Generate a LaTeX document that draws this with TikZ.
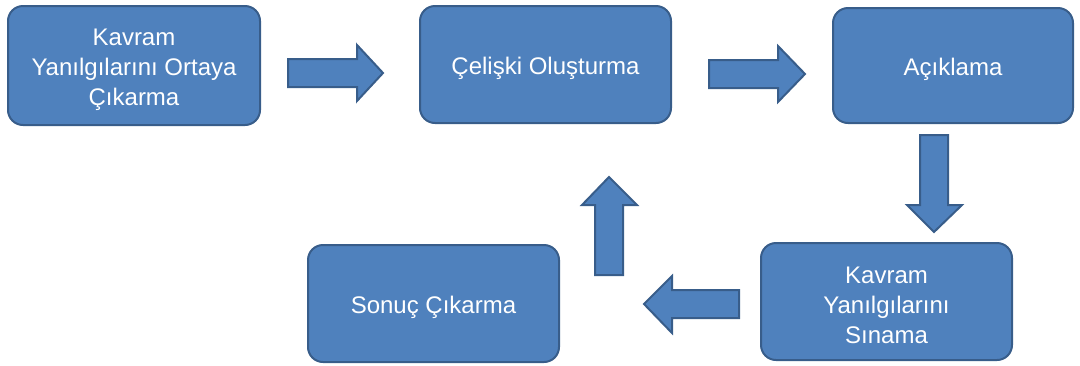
\documentclass[tikz,border=0pt]{standalone}
\usepackage{fontspec}
\setmainfont{Liberation Sans}
\definecolor{boxfill}{HTML}{4F81BD}
\definecolor{boxline}{HTML}{385D8A}
\begin{document}
\begin{tikzpicture}[x=1pt,y=-1pt,
  box/.style={draw=boxline, fill=boxfill, line width=2pt, rounded corners=15pt,
    inner sep=0pt},
  lbl/.style={text=white, align=center, inner sep=0pt,
    font=\fontsize{24}{30}\selectfont},
  barrow/.style={draw=boxline, fill=boxfill, line width=2pt, line join=miter}]
\useasboundingbox (0,0) rectangle (1080,365);
\node[box, minimum width=252pt, minimum height=119pt] (b1) at (134,65.5) {};
\node[box, minimum width=251pt, minimum height=117pt] (b2) at (545.5,64.5) {};
\node[box, minimum width=240pt, minimum height=115pt] (b3) at (953,65.5) {};
\node[box, minimum width=251pt, minimum height=117pt] (b4) at (886.5,301.5) {};
\node[box, minimum width=251pt, minimum height=117pt] (b5) at (433.5,303.5) {};
\node[lbl] (t1) at ([yshift=-4pt]b1.center) {Kavram\\Yanılgılarını Ortaya\\Çıkarma};
\node[lbl] (t2) at ([yshift=-4pt]b2.center) {Çelişki Oluşturma};
\node[lbl] (t3) at ([yshift=-4pt]b3.center) {Açıklama};
\node[lbl] (t4) at ([yshift=-4pt]b4.center) {Kavram\\Yanılgılarını\\Sınama};
\node[lbl] (t5) at ([yshift=-4pt]b5.center) {Sonuç Çıkarma};
% block arrows
\draw[barrow] (288,59) -- (357,59) -- (357,45) -- (383,73) -- (357,101) -- (357,87) -- (288,87) -- cycle;
\draw[barrow] (709,60) -- (778,60) -- (778,46) -- (805,74) -- (778,102) -- (778,88) -- (709,88) -- cycle;
\draw[barrow] (920,135) -- (948,135) -- (948,205) -- (962,205) -- (934,232) -- (907,205) -- (920,205) -- cycle;
\draw[barrow] (595,275) -- (623,275) -- (623,205) -- (637,205) -- (609,177) -- (582,205) -- (595,205) -- cycle;
\draw[barrow] (739,290) -- (739,318) -- (672,318) -- (672,333) -- (644,304) -- (672,276) -- (672,290) -- cycle;
\end{tikzpicture}
\end{document}
